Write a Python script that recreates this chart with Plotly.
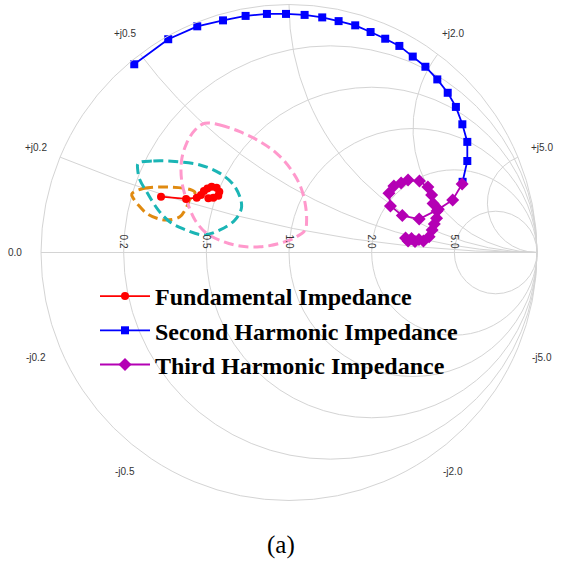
import numpy as np
import plotly.graph_objects as go

fund_g_re = [-0.516, -0.415, -0.372, -0.355, -0.343, -0.329, -0.312, -0.292, -0.281, -0.285, -0.305, -0.325]
fund_g_im = [0.225, 0.216, 0.221, 0.232, 0.248, 0.258, 0.265, 0.261, 0.245, 0.229, 0.221, 0.219]

second_g_re = [-0.624, -0.487, -0.370, -0.266, -0.175, -0.089, -0.012, 0.063, 0.134, 0.200, 0.267, 0.329,
               0.388, 0.445, 0.499, 0.550, 0.598, 0.640, 0.673, 0.699, 0.719, 0.719, 0.700]
second_g_im = [0.759, 0.860, 0.912, 0.936, 0.954, 0.962, 0.962, 0.958, 0.948, 0.933, 0.916, 0.889,
               0.862, 0.833, 0.790, 0.749, 0.698, 0.644, 0.587, 0.517, 0.446, 0.369, 0.285]

third_g_re = [0.698, 0.660, 0.602, 0.525, 0.457, 0.409, 0.403, 0.423, 0.452, 0.480, 0.526, 0.560, 0.575,
              0.581, 0.597, 0.595, 0.586, 0.577, 0.565, 0.542, 0.524, 0.508, 0.494, 0.480, 0.470]
third_g_im = [0.276, 0.212, 0.174, 0.135, 0.149, 0.188, 0.239, 0.268, 0.280, 0.292, 0.288, 0.264, 0.232,
              0.198, 0.167, 0.138, 0.115, 0.091, 0.064, 0.046, 0.052, 0.044, 0.056, 0.046, 0.058]

# Load-pull contours (Gamma)
orange_g_re = [-0.634, -0.588, -0.493, -0.399, -0.379, -0.401, -0.415, -0.440, -0.493, -0.533, -0.574, -0.608, -0.628, -0.634]
orange_g_im = [0.236, 0.258, 0.264, 0.254, 0.242, 0.212, 0.179, 0.144, 0.131, 0.138, 0.158, 0.192, 0.219, 0.236]

teal_g_re = [-0.608, -0.547, -0.460, -0.359, -0.278, -0.218, -0.191, -0.218, -0.278, -0.346, -0.426, -0.480,
             -0.527, -0.574, -0.601, -0.610, -0.608]
teal_g_im = [0.360, 0.369, 0.367, 0.353, 0.319, 0.265, 0.185, 0.131, 0.091, 0.071, 0.095, 0.123,
             0.171, 0.245, 0.292, 0.333, 0.360]

pink_g_re = [-0.339, -0.278, -0.198, -0.117, -0.050, 0.004, 0.044, 0.065, 0.071, 0.065, 0.031, -0.036,
             -0.117, -0.198, -0.265, -0.332, -0.379, -0.413, -0.433, -0.433, -0.413, -0.379, -0.339]
pink_g_im = [0.521, 0.514, 0.487, 0.447, 0.400, 0.340, 0.272, 0.198, 0.131, 0.091, 0.064, 0.037,
             0.023, 0.026, 0.044, 0.077, 0.131, 0.212, 0.292, 0.373, 0.440, 0.494, 0.521]

real_ticks = [0.2, 0.5, 1.0, 2.0, 5.0]
imag_ticks = [0.2, 0.5, 1.0, 2.0, 5.0]
imag_label_vals = [0.2, 0.5, 2.0, 5.0, -0.2, -0.5, -2.0, -5.0]

W = H = 561
CX, CY, R = 289.0, 252.5, 248.0  # chart centre / radius in pixels


def to_z(g_re, g_im):
    g = np.array(g_re) + 1j * np.array(g_im)
    z = (1 + g) / (1 - g)
    return z.real, z.imag


fig = go.Figure()

for gr, gi, col in [(orange_g_re, orange_g_im, "#E08A10"),
                    (teal_g_re, teal_g_im, "#1BB5B5"),
                    (pink_g_re, pink_g_im, "#FF99CC")]:
    zr, zi = to_z(gr, gi)
    fig.add_trace(go.Scattersmith(real=zr, imag=zi, mode="lines", showlegend=False, hoverinfo="skip",
                                  line=dict(color=col, width=3, dash="10px,5px", shape="spline")))

series = [
    ("Fundamental Impedance", fund_g_re, fund_g_im, "#FF0000", "circle", 8),
    ("Second Harmonic Impedance", second_g_re, second_g_im, "#0000FF", "square", 8),
    ("Third Harmonic Impedance", third_g_re, third_g_im, "#B400B4", "diamond", 10),
]
for name, gr, gi, col, sym, sz in series:
    zr, zi = to_z(gr, gi)
    fig.add_trace(go.Scattersmith(real=zr, imag=zi, mode="lines+markers", name=name,
                                  line=dict(color=col, width=1.8),
                                  marker=dict(color=col, symbol=sym, size=sz)))

tickfont = dict(family="Liberation Sans", size=10, color="#333")
annotations = []
# reactance labels around the rim
for v in imag_label_vals:
    g = (1j * v - 1) / (1j * v + 1)
    rr = R + 26
    px = CX + rr * g.real
    py = CY - rr * g.imag
    txt = ("+j" if v > 0 else "-j") + f"{abs(v):.1f}"
    annotations.append(dict(text=txt, x=px / W, y=1 - py / H, xref="paper", yref="paper",
                            xanchor="center", yanchor="middle", showarrow=False, font=tickfont))
annotations.append(dict(text="0.0", x=15 / W, y=1 - CY / H, xref="paper", yref="paper",
                        xanchor="center", yanchor="middle", showarrow=False, font=tickfont))
annotations.append(dict(text="(a)", x=281 / W, y=1 - 545 / H, xref="paper", yref="paper",
                        xanchor="center", yanchor="middle", showarrow=False,
                        font=dict(family="Liberation Serif", size=25, color="black")))

fig.update_layout(
    width=W, height=H,
    margin=dict(l=0, r=0, t=0, b=0),
    paper_bgcolor="white",
    showlegend=True,
    smith=dict(
        domain=dict(x=[(CX - R) / W, (CX + R) / W], y=[1 - (CY + R) / H, 1 - (CY - R) / H]),
        bgcolor="white",
        realaxis=dict(tickvals=real_ticks, tickformat=".1f", gridcolor="#d4d4d4",
                      linecolor="#d4d4d4", tickfont=tickfont),
        imaginaryaxis=dict(tickvals=imag_ticks, gridcolor="#d4d4d4", showticklabels=False,
                           linecolor="#d4d4d4", tickfont=tickfont),
    ),
    legend=dict(x=95 / W, y=1 - 274 / H, xanchor="left", yanchor="top", bgcolor="rgba(0,0,0,0)",
                font=dict(family="Liberation Serif", size=24, color="black", weight="bold"),
                tracegroupgap=0, itemwidth=50),
    annotations=annotations,
)
fig.write_html("out.html", config={"displayModeBar": False},
               post_script="document.body.style.margin='0px';")
